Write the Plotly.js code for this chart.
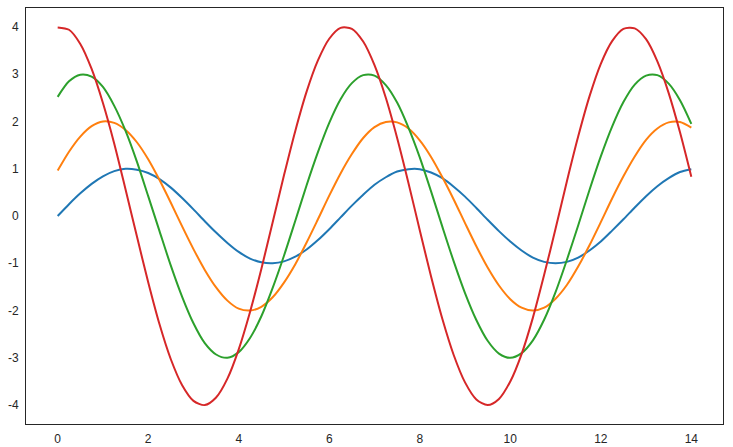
<!DOCTYPE html>
<html><head><meta charset="utf-8">
<script src="https://cdn.plot.ly/plotly-3.0.1.min.js"></script>
<style>html,body{margin:0;padding:0;background:#fff;}#chart{width:733px;height:447px;}</style>
</head><body><div id="chart"></div>
<script>
const xValues = [0,0.25,0.5,0.75,1,1.25,1.5,1.75,2,2.25,2.5,2.75,3,3.25,3.5,3.75,4,4.25,4.5,4.75,5,5.25,5.5,5.75,6,6.25,6.5,6.75,7,7.25,7.5,7.75,8,8.25,8.5,8.75,9,9.25,9.5,9.75,10,10.25,10.5,10.75,11,11.25,11.5,11.75,12,12.25,12.5,12.75,13,13.25,13.5,13.75,14];
const blueSeries = [0,0.25,0.48,0.68,0.84,0.95,1.00,0.98,
  0.91,0.78,0.60,0.38,0.14,-0.11,-0.35,-0.57,
  -0.76,-0.90,-0.98,-1.00,-0.96,-0.86,-0.71,-0.51,
  -0.28,-0.03,0.22,0.45,0.66,0.82,0.94,0.99,
  0.99,0.92,0.80,0.62,0.41,0.17,-0.08,-0.32,
  -0.54,-0.73,-0.88,-0.97,-1.00,-0.97,-0.88,-0.73,
  -0.54,-0.31,-0.07,0.18,0.42,0.63,0.80,0.93,
  0.99];
const orangeSeries = [0.96,1.36,1.68,1.90,2.00,1.97,1.82,1.56,
  1.20,0.76,0.28,-0.22,-0.70,-1.14,-1.51,-1.79,
  -1.96,-2.00,-1.92,-1.72,-1.41,-1.02,-0.56,-0.07,
  0.43,0.90,1.31,1.65,1.88,1.99,1.98,1.85,
  1.60,1.25,0.82,0.35,-0.15,-0.64,-1.09,-1.47,
  -1.76,-1.94,-2.00,-1.94,-1.75,-1.46,-1.07,-0.62,
  -0.13,0.37,0.84,1.26,1.61,1.85,1.98,1.99,
  1.87];
const greenSeries = [2.52,2.85,2.99,2.95,2.73,2.33,1.80,1.15,
  0.42,-0.32,-1.05,-1.71,-2.27,-2.69,-2.93,-3.00,
  -2.88,-2.58,-2.12,-1.52,-0.84,-0.10,0.65,1.35,
  1.97,2.47,2.81,2.98,2.97,2.77,2.40,1.87,
  1.24,0.52,-0.23,-0.96,-1.63,-2.20,-2.64,-2.91,
  -3.00,-2.90,-2.63,-2.19,-1.61,-0.93,-0.20,0.55,
  1.26,1.89,2.41,2.78,2.97,2.98,2.80,2.45,
  1.95];
const redSeries = [3.99,3.94,3.64,3.11,2.39,1.53,0.56,-0.43,
  -1.40,-2.29,-3.03,-3.58,-3.91,-4.00,-3.84,-3.44,
  -2.82,-2.03,-1.12,-0.13,0.86,1.80,2.63,3.29,
  3.75,3.98,3.96,3.69,3.19,2.50,1.65,0.70,
  -0.30,-1.28,-2.18,-2.94,-3.52,-3.88,-4.00,-3.87,
  -3.50,-2.92,-2.15,-1.24,-0.27,0.73,1.68,2.53,
  3.22,3.70,3.96,3.97,3.74,3.27,2.60,1.77,
  0.83];
const xTickVals = [0,2,4,6,8,10,12,14];
const xTickText = ["0","2","4","6","8","10","12","14"];
const yTickVals = [-4,-3,-2,-1,0,1,2,3,4];
const yTickText = ["-4","-3","-2","-1","0","1","2","3","4"];

const series = [
  {y: blueSeries, color: '#1f77b4'},
  {y: orangeSeries, color: '#ff7f0e'},
  {y: greenSeries, color: '#2ca02c'},
  {y: redSeries, color: '#d62728'}
];
const traces = series.map(s => ({
  x: xValues, y: s.y, type: 'scatter', mode: 'lines',
  line: {color: s.color, width: 2, shape: 'spline', smoothing: 0.8},
  hoverinfo: 'skip'
}));
const axisCommon = {
  showgrid: false, zeroline: false, showline: true, mirror: true,
  linecolor: '#262626', linewidth: 1, ticks: '',
  tickfont: {family: 'Liberation Sans, Arial, sans-serif', size: 12, color: '#262626'},
  tickmode: 'array'
};
const layout = {
  width: 733, height: 447,
  margin: {l: 26, r: 10, t: 8, b: 23},
  paper_bgcolor: '#fff', plot_bgcolor: '#fff',
  showlegend: false,
  xaxis: Object.assign({}, axisCommon, {range: [-0.7, 14.7], tickvals: xTickVals, ticktext: xTickText, ticklabelstandoff: 4}),
  yaxis: Object.assign({}, axisCommon, {range: [-4.4, 4.4], tickvals: yTickVals, ticktext: yTickText, ticklabelstandoff: 4})
};
Plotly.newPlot('chart', traces, layout, {displayModeBar: false, staticPlot: true});
</script></body></html>
